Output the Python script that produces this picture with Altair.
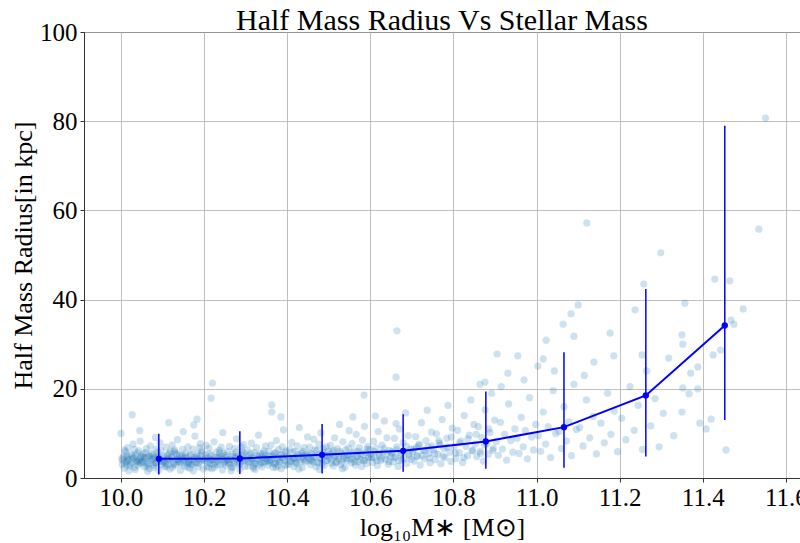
import altair as alt
import pandas as pd

# ---- binned statistics (blue line with error bars) ----
bin_mass = [10.091, 10.286, 10.484, 10.679, 10.878, 11.066, 11.263, 11.453]
bin_mean_radius = [4.3, 4.4, 5.2, 6.1, 8.2, 11.4, 18.5, 34.2]
bin_low = [0.8, 0.9, 1.0, 1.4, 2.1, 2.3, 4.8, 13.0]
bin_high = [9.9, 10.5, 12.1, 14.3, 19.4, 28.2, 42.4, 79.0]

# ---- individual galaxies (log10 M*, half mass radius) ----
cloud_100_105 = [(10.003,3.1),(10.006,4.8),(10.008,2.2),(10.011,5.9),(10.013,3.7),(10.016,6.8),(10.018,4.2),(10.021,2.7),(10.024,5.3),(10.026,3.4),(10.029,7.6),(10.031,4.5),(10.034,1.9),(10.036,3.9),(10.039,5.6),(10.041,2.9),(10.044,4.1),(10.046,8.3),(10.048,3.3),(10.002,4.4),(10.009,6.3),(10.019,1.6),(10.027,4.9),(10.033,2.4),(10.043,6.1),(10.038,3.6),(10.014,5.1),(10.047,4.6),
    (10.051,3.8),(10.053,5.4),(10.056,2.5),(10.058,4.3),(10.061,6.6),(10.063,3.2),(10.066,4.9),(10.068,2.1),(10.071,7.2),(10.073,3.9),(10.076,5.2),(10.078,2.8),(10.081,4.6),(10.083,9.1),(10.086,3.5),(10.088,5.8),(10.091,1.8),(10.093,4.0),(10.096,6.2),(10.098,3.0),(10.054,4.7),(10.064,1.5),(10.074,4.4),(10.084,3.3),(10.094,7.9),(10.059,5.7),(10.079,2.3),(10.089,4.8),
    (10.027,14.2),(10.000,10.0),(10.045,10.6)]
cloud_101_102 = [(10.101,3.6),(10.103,5.0),(10.106,2.6),(10.108,6.9),(10.111,4.1),(10.113,3.0),(10.116,5.5),(10.118,2.0),(10.121,4.5),(10.123,7.4),(10.126,3.4),(10.128,5.9),(10.131,2.9),(10.133,4.2),(10.136,8.6),(10.138,3.7),(10.141,5.1),(10.143,1.7),(10.146,4.7),(10.148,6.4),(10.104,3.9),(10.114,4.4),(10.124,2.4),(10.134,5.3),(10.144,3.2),(10.119,6.0),(10.139,4.0),
    (10.151,4.3),(10.153,2.7),(10.156,5.6),(10.158,3.5),(10.161,7.0),(10.163,4.0),(10.166,2.2),(10.168,5.0),(10.171,3.1),(10.173,6.5),(10.176,4.6),(10.178,9.4),(10.181,3.3),(10.183,5.4),(10.186,2.5),(10.188,4.1),(10.191,7.7),(10.193,3.8),(10.196,5.7),(10.198,2.0),(10.154,4.8),(10.164,3.6),(10.174,1.6),(10.184,4.4),(10.194,6.1),(10.169,3.0),
    (10.115,12.4),(10.183,13.2),(10.175,11.9),(10.150,10.4)]
cloud_102_104 = [(10.201,3.9),(10.204,5.2),(10.207,2.6),(10.209,4.5),(10.212,6.7),(10.214,3.3),(10.217,5.0),(10.219,2.1),(10.222,4.2),(10.224,8.1),(10.227,3.6),(10.229,5.8),(10.232,2.9),(10.234,4.7),(10.237,6.2),(10.239,3.1),(10.242,4.9),(10.244,1.8),(10.247,5.5),(10.249,3.7),(10.205,7.3),(10.215,4.0),(10.225,2.4),(10.235,4.4),(10.245,10.2),
    (10.251,4.6),(10.253,2.8),(10.256,5.9),(10.258,3.4),(10.261,7.1),(10.263,4.1),(10.266,2.3),(10.268,5.3),(10.271,3.2),(10.273,6.6),(10.276,4.4),(10.278,8.8),(10.281,3.5),(10.283,5.1),(10.286,2.0),(10.288,4.3),(10.291,6.0),(10.293,3.8),(10.296,5.6),(10.298,2.6),(10.255,4.0),(10.265,1.6),(10.275,4.8),(10.285,3.0),(10.295,7.5),
    (10.301,4.2),(10.304,6.3),(10.306,2.7),(10.309,5.1),(10.311,3.6),(10.314,7.8),(10.316,4.5),(10.319,2.2),(10.321,5.7),(10.324,3.3),(10.326,6.8),(10.329,4.0),(10.331,9.6),(10.334,3.0),(10.336,5.4),(10.339,2.5),(10.341,4.7),(10.344,6.1),(10.346,3.7),(10.349,5.0),(10.313,4.3),(10.323,1.9),(10.333,4.9),(10.343,3.4),
    (10.351,4.4),(10.354,2.9),(10.356,6.0),(10.359,3.5),(10.361,7.4),(10.364,4.8),(10.366,2.4),(10.369,5.5),(10.371,3.2),(10.374,8.4),(10.376,4.1),(10.379,6.4),(10.381,3.7),(10.384,5.2),(10.386,2.1),(10.389,4.6),(10.391,10.8),(10.394,3.9),(10.396,5.8),(10.399,3.0),(10.358,4.0),(10.368,5.0),(10.378,2.7),(10.388,7.0),
    (10.220,21.3),(10.217,17.9),(10.363,16.4),(10.363,14.8),(10.385,13.7)]
cloud_104_106 = [(10.401,4.9),(10.404,3.1),(10.406,6.5),(10.409,3.8),(10.411,8.0),(10.414,4.4),(10.416,2.6),(10.419,5.9),(10.421,3.4),(10.424,7.2),(10.426,4.7),(10.429,11.3),(10.431,3.6),(10.434,5.6),(10.436,2.3),(10.439,4.2),(10.441,6.8),(10.444,3.9),(10.446,5.3),(10.449,9.2),(10.418,4.5),(10.428,2.0),(10.438,5.0),
    (10.451,4.3),(10.454,6.9),(10.456,3.0),(10.459,5.4),(10.461,3.7),(10.464,8.7),(10.466,4.8),(10.469,2.5),(10.471,6.2),(10.474,3.5),(10.476,7.6),(10.479,4.5),(10.481,10.1),(10.484,3.2),(10.486,5.7),(10.489,2.8),(10.491,5.0),(10.494,7.0),(10.496,4.0),(10.499,6.0),(10.458,4.1),(10.478,1.9),
    (10.501,4.6),(10.504,7.3),(10.506,3.3),(10.509,5.8),(10.511,2.7),(10.514,9.0),(10.516,5.0),(10.519,3.6),(10.521,6.6),(10.524,4.2),(10.526,12.0),(10.529,3.0),(10.531,5.5),(10.534,8.1),(10.536,4.4),(10.539,2.4),(10.541,6.3),(10.544,3.9),(10.546,5.2),(10.549,10.6),(10.513,4.8),(10.533,2.1),
    (10.551,5.1),(10.554,3.4),(10.556,7.7),(10.559,4.3),(10.561,6.1),(10.564,2.9),(10.566,9.8),(10.569,4.9),(10.571,3.7),(10.574,6.8),(10.576,5.4),(10.579,2.6),(10.581,8.5),(10.584,4.0),(10.586,11.6),(10.589,5.7),(10.591,3.2),(10.594,7.1),(10.596,4.6),(10.599,6.4),
    (10.585,18.6),(10.558,13.7)]
cloud_106_108 = [(10.602,5.3),(10.605,3.5),(10.608,8.2),(10.611,4.5),(10.614,6.7),(10.617,2.8),(10.619,10.4),(10.622,5.0),(10.625,3.9),(10.628,7.4),(10.631,5.8),(10.634,12.8),(10.637,4.2),(10.640,9.0),(10.643,3.1),(10.646,6.2),(10.649,4.8),(10.612,13.9),
    (10.652,5.6),(10.655,3.6),(10.658,8.9),(10.661,4.7),(10.664,7.0),(10.667,2.6),(10.670,11.0),(10.673,5.2),(10.676,4.0),(10.679,7.9),(10.682,6.0),(10.685,14.6),(10.688,3.3),(10.691,9.5),(10.694,4.9),(10.697,6.5),(10.662,12.2),
    (10.702,5.9),(10.706,3.8),(10.709,9.3),(10.713,5.0),(10.716,7.3),(10.720,2.9),(10.723,12.4),(10.727,6.2),(10.730,4.3),(10.734,8.4),(10.737,15.2),(10.741,5.5),(10.744,3.4),(10.747,10.3),(10.711,6.8),(10.739,7.0),
    (10.752,6.4),(10.756,4.1),(10.759,9.9),(10.763,5.3),(10.766,7.8),(10.770,3.2),(10.773,13.1),(10.777,6.6),(10.780,4.6),(10.784,8.9),(10.787,16.3),(10.791,5.8),(10.794,3.7),(10.797,11.2),(10.768,7.4),
    (10.664,33.0),(10.662,22.6)]
cloud_108_110 = [(10.802,7.0),(10.806,4.4),(10.810,10.7),(10.814,5.7),(10.818,8.3),(10.822,3.5),(10.826,14.0),(10.830,7.1),(10.834,5.0),(10.838,9.6),(10.842,17.5),(10.846,6.2),(10.849,12.0),
    (10.852,7.6),(10.856,4.8),(10.860,11.5),(10.864,6.0),(10.868,9.1),(10.872,3.8),(10.876,15.3),(10.880,7.7),(10.884,5.4),(10.888,10.2),(10.892,19.0),(10.896,6.7),(10.899,13.0),
    (10.903,8.2),(10.908,5.1),(10.913,12.5),(10.918,6.5),(10.923,9.8),(10.928,4.0),(10.933,16.6),(10.938,8.4),(10.943,5.8),(10.948,11.0),(10.915,20.5),
    (10.953,8.9),(10.958,5.5),(10.963,13.6),(10.968,7.0),(10.973,10.6),(10.978,4.3),(10.983,18.0),(10.988,9.2),(10.993,6.3),(10.998,12.0),(10.970,22.0),
    (10.905,27.8),(10.955,27.4),(10.931,23.5),(10.876,21.5),(10.864,21.0)]
cloud_110_112 = [(11.004,9.5),(11.010,6.0),(11.016,14.8),(11.022,7.6),(11.028,11.5),(11.034,4.6),(11.040,19.6),(11.046,10.0),(11.023,30.9),(11.016,26.7),(11.043,24.0),(11.003,25.1),
    (11.054,10.4),(11.060,6.6),(11.066,16.0),(11.072,8.3),(11.078,12.6),(11.084,5.0),(11.090,21.0),(11.096,10.9),(11.064,34.5),(11.083,36.8),(11.090,31.8),(11.100,38.8),(11.121,57.2),
    (11.104,11.3),(11.112,7.2),(11.120,17.5),(11.128,9.0),(11.136,13.8),(11.144,5.4),(11.138,26.0),(11.115,23.0),
    (11.155,12.3),(11.163,7.9),(11.171,19.0),(11.179,9.8),(11.187,15.0),(11.195,5.9),(11.186,27.4),(11.177,32.5)]
cloud_112_116 = [(11.205,13.4),(11.215,8.6),(11.225,20.5),(11.235,10.7),(11.245,16.3),(11.255,6.4),(11.265,24.0),(11.275,11.7),(11.285,17.8),(11.295,7.0),(11.237,37.7),(11.254,27.6),(11.258,43.5),(11.299,50.5),
    (11.305,14.5),(11.318,26.9),(11.330,9.5),(11.350,32.1),(11.352,30.0),(11.357,39.2),(11.350,14.8),(11.352,20.2),(11.367,18.9),(11.371,23.5),(11.388,24.9),(11.388,20.0),(11.393,12.3),
    (11.408,11.0),(11.420,13.2),(11.425,27.6),(11.429,44.6),(11.443,28.7),(11.456,6.3),(11.465,44.2),(11.468,35.4),(11.475,34.5),(11.497,37.9),(11.535,55.8),(11.551,80.7)]
# extra galaxies in the crowded core of the cloud
cloud_core = [(10.004,4.0),(10.010,3.5),(10.015,4.6),(10.022,3.0),(10.028,4.3),(10.035,5.0),(10.040,3.8),(10.049,4.9),(10.055,3.6),(10.060,4.5),(10.067,3.1),(10.072,5.5),(10.077,4.2),(10.082,3.4),(10.087,5.0),(10.092,4.4),(10.097,3.7),(10.012,2.9),(10.032,6.4),(10.062,2.7),(10.085,6.5),(10.017,4.0),(10.045,3.5),(10.070,4.8),
    (10.102,4.6),(10.107,3.3),(10.112,5.2),(10.117,3.9),(10.122,4.8),(10.127,3.1),(10.132,5.6),(10.137,4.3),(10.142,3.5),(10.147,5.0),(10.152,3.9),(10.157,4.5),(10.162,3.2),(10.167,5.3),(10.172,4.1),(10.177,3.6),(10.182,4.9),(10.187,3.3),(10.192,5.1),(10.197,4.2),(10.109,2.5),(10.129,6.3),(10.159,2.4),(10.189,6.8),
    (10.203,4.4),(10.208,3.5),(10.213,5.4),(10.218,4.0),(10.223,3.1),(10.228,4.7),(10.233,3.8),(10.238,5.6),(10.243,4.2),(10.248,3.3),(10.252,5.0),(10.257,4.1),(10.262,3.2),(10.267,4.8),(10.272,3.9),(10.277,5.8),(10.282,4.3),(10.287,3.4),(10.292,5.2),(10.297,4.0),(10.211,2.3),(10.241,6.9),(10.269,2.5),(10.289,7.0),
    (10.302,4.8),(10.307,3.6),(10.312,5.6),(10.317,4.1),(10.322,3.2),(10.327,5.1),(10.332,4.3),(10.337,3.5),(10.342,5.5),(10.347,4.4),(10.352,3.8),(10.357,5.0),(10.362,4.0),(10.367,3.3),(10.372,5.7),(10.377,4.5),(10.382,3.6),(10.387,5.3),(10.392,4.2),(10.397,6.1),(10.318,2.6),(10.348,7.2),(10.373,2.4),(10.395,2.8),
    (10.403,4.7),(10.408,3.7),(10.413,5.8),(10.417,4.2),(10.423,3.3),(10.427,5.2),(10.433,4.5),(10.437,6.0),(10.443,3.6),(10.447,4.9),(10.453,5.6),(10.457,3.9),(10.463,4.6),(10.467,6.3),(10.473,3.4),(10.477,5.3),(10.483,4.3),(10.487,6.6),(10.493,3.8),(10.497,5.0),
    (10.503,5.4),(10.507,4.1),(10.512,6.2),(10.517,3.5),(10.523,4.9),(10.527,5.9),(10.532,3.8),(10.537,5.1),(10.542,4.4),(10.547,6.7),(10.553,4.2),(10.557,5.6),(10.562,3.6),(10.567,4.8),(10.572,6.0),(10.577,4.1),(10.582,5.2),(10.587,3.9),(10.592,6.4),(10.597,4.7),
    (10.603,4.6),(10.609,6.0),(10.615,3.9),(10.621,5.5),(10.627,4.3),(10.633,6.6),(10.639,5.1),(10.645,3.7),(10.651,5.9),(10.657,4.6),(10.663,6.3),(10.669,3.9),(10.675,5.6),(10.681,4.4),(10.687,7.1),(10.693,5.3),(10.699,4.2),(10.705,6.5),(10.712,4.9),(10.718,7.6),(10.725,5.0),(10.732,6.0),(10.742,4.5),(10.748,7.2),
    (10.755,5.5),(10.765,8.4),(10.775,4.9),(10.785,6.9),(10.795,9.2),(10.805,5.6),(10.815,7.9),(10.825,4.6),(10.835,8.8),(10.845,6.1),(10.855,9.8),(10.865,5.5),(10.875,7.4),(10.885,11.0),(10.895,6.2)]

cloud = (cloud_100_105 + cloud_101_102 + cloud_102_104 + cloud_104_106
         + cloud_106_108 + cloud_108_110 + cloud_110_112 + cloud_112_116 + cloud_core)
cloud_df = pd.DataFrame(cloud, columns=["mass", "radius"])
bins_df = pd.DataFrame({"mass": bin_mass, "radius": bin_mean_radius,
                        "low": bin_low, "high": bin_high})

x_ticks = [10.0, 10.2, 10.4, 10.6, 10.8, 11.0, 11.2, 11.4, 11.6]
y_ticks = [0, 20, 40, 60, 80, 100]

x_scale = alt.Scale(domain=[9.911, 11.634], nice=False, zero=False)
y_scale = alt.Scale(domain=[0, 100], nice=False)

x_enc = alt.X("mass:Q", scale=x_scale,
              axis=alt.Axis(values=x_ticks, format=".1f", title="log₁₀M∗ [M⊙]"))
y_enc = alt.Y("radius:Q", scale=y_scale,
              axis=alt.Axis(values=y_ticks, title="Half Mass Radius[in kpc]"))

scatter = alt.Chart(cloud_df).mark_circle(
    color="#1f77b4", opacity=0.22, size=52
).encode(x=x_enc, y=y_enc)

errbars = alt.Chart(bins_df).mark_rule(color="#0000ff", strokeWidth=1.5).encode(
    x="mass:Q", y="low:Q", y2="high:Q")

line = alt.Chart(bins_df).mark_line(color="#0000ff", strokeWidth=2).encode(
    x="mass:Q", y="radius:Q")

dots = alt.Chart(bins_df).mark_circle(color="#0000ff", opacity=1, size=40).encode(
    x="mass:Q", y="radius:Q")

chart = alt.layer(scatter, errbars, line, dots).properties(
    width=716, height=446,
    title=alt.TitleParams("Half Mass Radius Vs Stellar Mass", font="Liberation Serif",
                          fontSize=30, fontWeight="normal", color="black",
                          anchor="middle", frame="group", offset=-16),
    padding={"left": 84, "top": 32, "right": 0, "bottom": 65},
    autosize=alt.AutoSizeParams(type="none"),
).configure_view(
    stroke="#333333", strokeWidth=1
).configure_axis(
    labelFont="Liberation Serif", labelFontSize=25, labelColor="black",
    titleFont="Liberation Serif", titleFontSize=26, titleFontWeight="normal",
    titleColor="black", gridColor="#b0b0b0", gridWidth=0.8,
    domainColor="#333333", tickColor="#333333", tickSize=4,
    labelPadding=3, grid=True
).configure_axisX(
    titlePadding=4
).configure_axisY(
    titlePadding=3
)

chart.save("out.html", embed_options={"renderer": "svg", "actions": False})
